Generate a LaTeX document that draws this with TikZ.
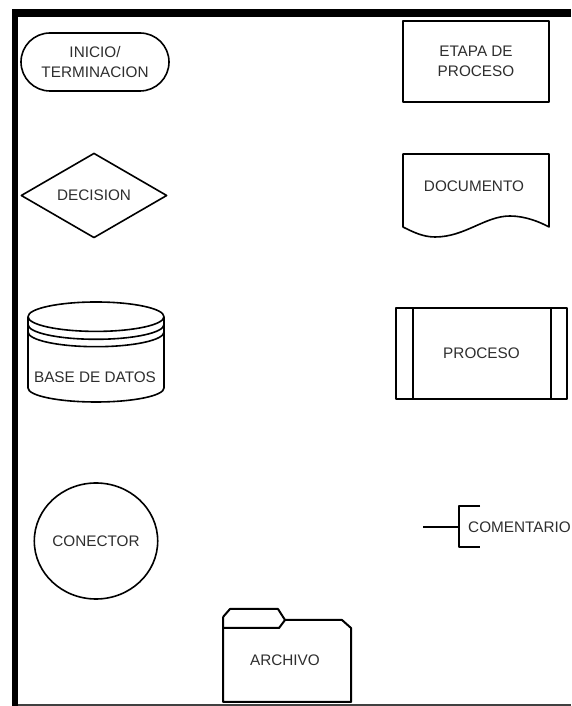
\documentclass[tikz,border=0pt]{standalone}
\usepackage{fontspec}
\setmainfont{Liberation Sans}
\usetikzlibrary{shapes.geometric}
\begin{document}
\begin{tikzpicture}[x=1pt,y=1pt,
  outline/.style={draw=black, line width=1.6pt, line join=round},
  folderline/.style={draw=black, line width=2pt, line join=round},
  lbl/.style={text=black!82, font=\fontsize{15.3}{20.5}\selectfont, inner sep=0pt, align=center},
]
\useasboundingbox (0,0) rectangle (571,706);
\fill[white] (0,0) rectangle (571,706);

% frame
\fill[black] (12,689) rectangle (571,697);
\fill[black] (12,0) rectangle (18,697);
\fill[black!75] (18,0) rectangle (571,2);

% terminator
\node[outline, lbl, rectangle, rounded corners=29pt, minimum width=148pt, minimum height=58pt] (inicio) at (95,644) {INICIO/\\TERMINACION};

% process step
\node[outline, lbl, rectangle, minimum width=146pt, minimum height=81pt] (etapa) at (476,644.5) {ETAPA DE\\PROCESO};

% decision
\node[outline, lbl, diamond, minimum width=146pt, minimum height=83pt] (decision) at (94,510.5) {DECISION};

% document
\draw[outline] (403,552) -- (549,552) -- (549,479)
  .. controls (540,484) and (525,490) .. (510,490)
  .. controls (485,490) and (465,469) .. (435,469)
  .. controls (423,469) and (413,474) .. (403,479) -- cycle;
\node[lbl] (documento) at (474,520) {DOCUMENTO};

% database
\draw[outline] (96,389.3) ellipse (68 and 14.7);
\draw[outline] (28,381.4) arc (180:360:68 and 14.7);
\draw[outline] (28,374) arc (180:360:68 and 14.7);
\draw[outline] (28,389.3) -- (28,318) arc (180:360:68 and 14) -- (164,389.3);
\node[lbl] (base) at (95,329) {BASE DE DATOS};

% predefined process
\node[outline, lbl, rectangle, minimum width=171pt, minimum height=91pt] (proceso) at (481.5,352.5) {PROCESO};
\draw[outline] ([xshift=18pt]proceso.north west) -- ([xshift=18pt]proceso.south west);
\draw[outline] ([xshift=-17pt]proceso.north east) -- ([xshift=-17pt]proceso.south east);

% connector
\node[outline, lbl, ellipse, minimum width=102pt, minimum height=116pt] (conector) at (96,165) {CONECTOR};

% comment
\node[lbl, anchor=west] (comentario) at (468,179) {COMENTARIO};
\coordinate (cin) at (423,179);
\coordinate (cbr) at (459,179);
\draw[outline] (cin) -- (cbr);
\draw[outline] (480,200) -- (459,200) -- (459,159) -- (480,159);

% file folder
\draw[folderline] (223,89) -- (223,4) -- (351,4) -- (351,78) -- (342,86) -- (285,86);
\draw[folderline] (223,89) -- (230,97) -- (278,97) -- (285,86) -- (279,78) -- (223,78);
\node[lbl] (archivo) at (285,46) {ARCHIVO};
\end{tikzpicture}
\end{document}
